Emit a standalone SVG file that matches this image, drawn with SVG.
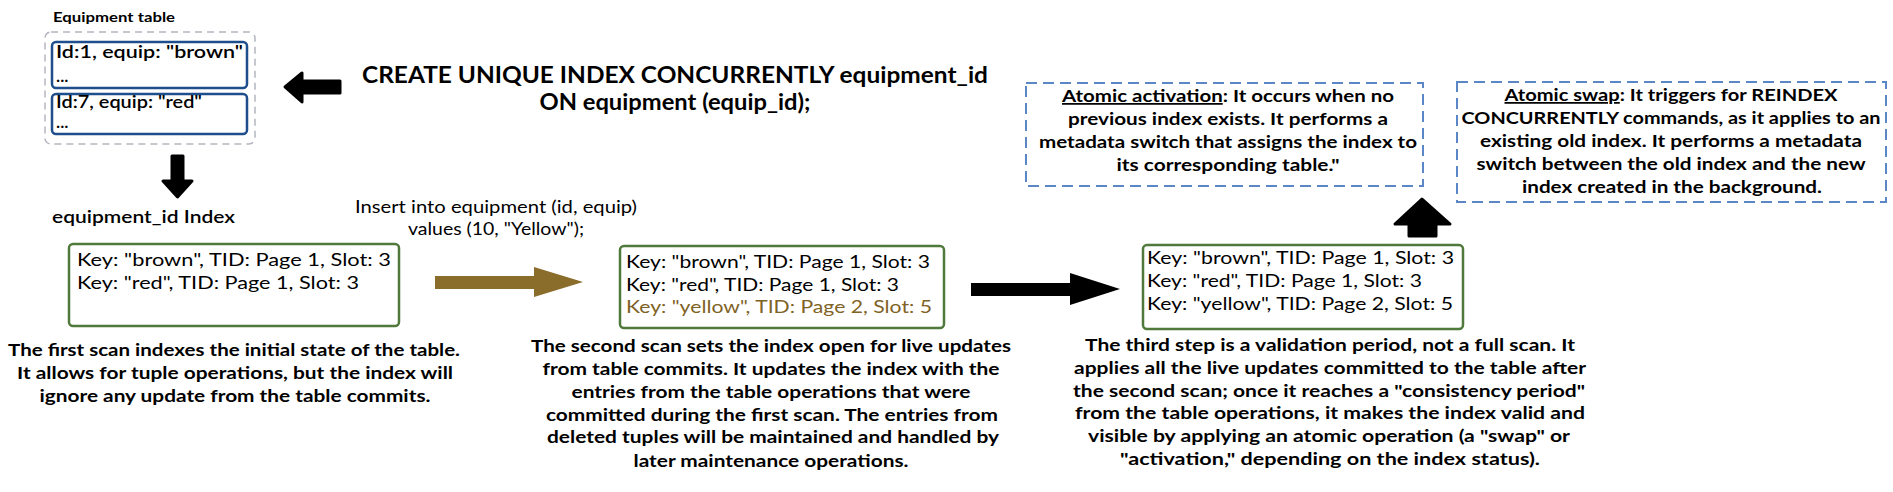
<svg xmlns="http://www.w3.org/2000/svg" width="1893" height="492" viewBox="0 0 1893 492">
<style>
text{font-family:Lato,"Liberation Sans",sans-serif;fill:#000}
.b{font-weight:700}
.d{font-size:17.5px;font-weight:700}
.k{font-size:16.5px}
.c{text-anchor:middle}
.green{fill:#fff;stroke:#4f7a3b;stroke-width:2.5}
.blue{fill:#fff;stroke:#1f4e8c;stroke-width:2.5}
.bdash{fill:#fff;stroke:#5b87c7;stroke-width:2;stroke-dasharray:11 6}
.arr{stroke-linejoin:round;stroke-width:3}
</style>
<g id="equipment-table">
<text x="53" y="22" class="b" font-size="12.5" textLength="122" lengthAdjust="spacingAndGlyphs">Equipment table</text>
<rect x="45" y="32" width="210" height="112" rx="6" fill="#fff" stroke="#b3b6c0" stroke-width="1.5" stroke-dasharray="7 5"/>
<rect x="52" y="42" width="195" height="46" rx="4" class="blue"/>
<text x="56" y="58" font-size="17.5" font-weight="600" textLength="187" lengthAdjust="spacingAndGlyphs">Id:1, equip: "brown"</text>
<text x="56" y="82" font-size="17.5" font-weight="600">...</text>
<rect x="52" y="94" width="195" height="40" rx="4" class="blue"/>
<text x="56" y="108" font-size="17.5" font-weight="600" textLength="146" lengthAdjust="spacingAndGlyphs">Id:7, equip: "red"</text>
<text x="56" y="128" font-size="17.5" font-weight="600">...</text>
</g>
<g id="create-statement">
<text x="675" y="83" class="b c" font-size="22" textLength="626" lengthAdjust="spacingAndGlyphs">CREATE UNIQUE INDEX CONCURRENTLY equipment_id</text>
<text x="675" y="110" class="b c" font-size="22" textLength="271" lengthAdjust="spacingAndGlyphs">ON equipment (equip_id);</text>
</g>
<g id="index-label">
<text x="52" y="223" font-size="16.5" font-weight="600" textLength="183" lengthAdjust="spacingAndGlyphs">equipment_id Index</text>
</g>
<g id="index-scan1">
<rect x="69" y="244" width="330" height="82" rx="4" class="green"/>
<text x="77" y="266" class="k" textLength="314" lengthAdjust="spacingAndGlyphs">Key: "brown", TID: Page 1, Slot: 3</text>
<text x="77" y="289" class="k" textLength="282" lengthAdjust="spacingAndGlyphs">Key: "red", TID: Page 1, Slot: 3</text>
</g>
<g id="desc-scan1">
<text x="234" y="356" class="d c" textLength="452" lengthAdjust="spacingAndGlyphs">The first scan indexes the initial state of the table.</text>
<text x="235" y="379" class="d c" textLength="436" lengthAdjust="spacingAndGlyphs">It allows for tuple operations, but the index will</text>
<text x="235" y="402" class="d c" textLength="391" lengthAdjust="spacingAndGlyphs">ignore any update from the table commits.</text>
</g>
<g id="insert-statement">
<text x="496" y="213" class="c" font-size="17.5" textLength="282" lengthAdjust="spacingAndGlyphs">Insert into equipment (id, equip)</text>
<text x="496" y="235" class="c" font-size="17.5" textLength="176" lengthAdjust="spacingAndGlyphs">values (10, "Yellow");</text>
</g>
<g id="index-scan2">
<rect x="620" y="246" width="324" height="82" rx="4" class="green"/>
<text x="626" y="268" class="k" textLength="304" lengthAdjust="spacingAndGlyphs">Key: "brown", TID: Page 1, Slot: 3</text>
<text x="626" y="291" class="k" textLength="273" lengthAdjust="spacingAndGlyphs">Key: "red", TID: Page 1, Slot: 3</text>
<text x="626" y="313" class="k" style="fill:#7f6225" textLength="306" lengthAdjust="spacingAndGlyphs">Key: "yellow", TID: Page 2, Slot: 5</text>
</g>
<g id="desc-scan2">
<text x="771" y="352" class="d c" textLength="480" lengthAdjust="spacingAndGlyphs">The second scan sets the index open for live updates</text>
<text x="771" y="375" class="d c" textLength="457" lengthAdjust="spacingAndGlyphs">from table commits. It updates the index with the</text>
<text x="771" y="398" class="d c" textLength="399" lengthAdjust="spacingAndGlyphs">entries from the table operations that were</text>
<text x="772" y="421" class="d c" textLength="452" lengthAdjust="spacingAndGlyphs">committed during the first scan. The entries from</text>
<text x="773" y="443" class="d c" textLength="452" lengthAdjust="spacingAndGlyphs">deleted tuples will be maintained and handled by</text>
<text x="771" y="467" class="d c" textLength="275" lengthAdjust="spacingAndGlyphs">later maintenance operations.</text>
</g>
<g id="index-scan3">
<rect x="1143" y="245" width="320" height="84" rx="4" class="green"/>
<text x="1147" y="264" class="k" textLength="307" lengthAdjust="spacingAndGlyphs">Key: "brown", TID: Page 1, Slot: 3</text>
<text x="1147" y="287" class="k" textLength="275" lengthAdjust="spacingAndGlyphs">Key: "red", TID: Page 1, Slot: 3</text>
<text x="1147" y="310" class="k" textLength="306" lengthAdjust="spacingAndGlyphs">Key: "yellow", TID: Page 2, Slot: 5</text>
</g>
<g id="desc-scan3">
<text x="1330" y="351" class="d c" textLength="490" lengthAdjust="spacingAndGlyphs">The third step is a validation period, not a full scan. It</text>
<text x="1330" y="374" class="d c" textLength="512" lengthAdjust="spacingAndGlyphs">applies all the live updates committed to the table after</text>
<text x="1329" y="397" class="d c" textLength="512" lengthAdjust="spacingAndGlyphs">the second scan; once it reaches a "consistency period"</text>
<text x="1330" y="419" class="d c" textLength="510" lengthAdjust="spacingAndGlyphs">from the table operations, it makes the index valid and</text>
<text x="1329" y="442" class="d c" textLength="482" lengthAdjust="spacingAndGlyphs">visible by applying an atomic operation (a "swap" or</text>
<text x="1330" y="465" class="d c" textLength="420" lengthAdjust="spacingAndGlyphs">"activation," depending on the index status).</text>
</g>
<g id="atomic-activation">
<rect x="1026" y="83" width="397" height="103" class="bdash"/>
<text x="1228" y="102" class="d c" textLength="332" lengthAdjust="spacingAndGlyphs"><tspan text-decoration="underline">Atomic activation</tspan>: It occurs when no</text>
<text x="1228" y="125" class="d c" textLength="320" lengthAdjust="spacingAndGlyphs">previous index exists. It performs a</text>
<text x="1228" y="148" class="d c" textLength="378" lengthAdjust="spacingAndGlyphs">metadata switch that assigns the index to</text>
<text x="1228" y="171" class="d c" textLength="223" lengthAdjust="spacingAndGlyphs">its corresponding table."</text>
</g>
<g id="atomic-swap">
<rect x="1457" y="82" width="429" height="120" class="bdash"/>
<text x="1671" y="101" class="d c" textLength="333" lengthAdjust="spacingAndGlyphs"><tspan text-decoration="underline">Atomic swap</tspan>: It triggers for REINDEX</text>
<text x="1671" y="124" class="d c" textLength="419" lengthAdjust="spacingAndGlyphs">CONCURRENTLY commands, as it applies to an</text>
<text x="1671" y="147" class="d c" textLength="382" lengthAdjust="spacingAndGlyphs">existing old index. It performs a metadata</text>
<text x="1671" y="170" class="d c" textLength="389" lengthAdjust="spacingAndGlyphs">switch between the old index and the new</text>
<text x="1672" y="193" class="d c" textLength="300" lengthAdjust="spacingAndGlyphs">index created in the background.</text>
</g>
<g id="connectors">
<path class="arr" fill="#000" stroke="#000" d="M285,87 L302,73 L302,81 L340,81 L340,93 L302,93 L302,102 Z"/>
<path class="arr" fill="#000" stroke="#000" d="M172,156 L183,156 L183,181 L192,181 L177.5,197 L163,181 L172,181 Z"/>
<path fill="#8a6c2b" d="M435,276 L534,276 L534,267 L583,282 L534,297 L534,289 L435,289 Z"/>
<path fill="#000" d="M971,283 L1070,283 L1070,273 L1120,289 L1070,305 L1070,296 L971,296 Z"/>
<path class="arr" fill="#000" stroke="#000" stroke-width="4" d="M1422,199 L1450,224 L1436,224 L1436,236 L1409,236 L1409,224 L1395,224 Z"/>
</g>
</svg>
